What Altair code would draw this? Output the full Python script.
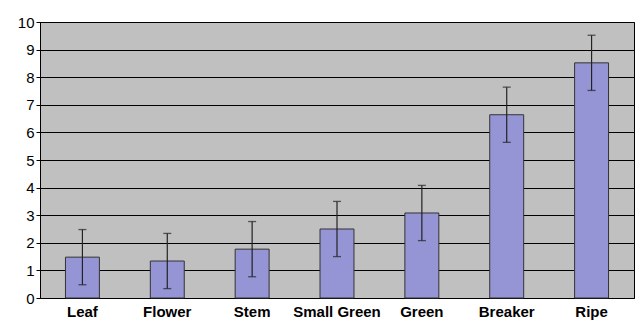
import altair as alt
import pandas as pd

categories = ["Leaf", "Flower", "Stem", "Small Green", "Green", "Breaker", "Ripe"]
values = [1.48, 1.34, 1.77, 2.5, 3.08, 6.64, 8.52]
errors = [1.0, 1.0, 1.0, 1.0, 1.0, 1.0, 1.0]
y_ticks = [0, 1, 2, 3, 4, 5, 6, 7, 8, 9, 10]

df = pd.DataFrame({"cat": categories, "val": values, "err": errors})
df["lo"] = df["val"] - df["err"]
df["hi"] = df["val"] + df["err"]

xaxis = alt.Axis(labelAngle=0, labelFont="Liberation Sans", labelFontSize=15,
                 labelFontWeight="bold", labelColor="black", ticks=False,
                 domain=False, labelPadding=6, grid=False)
yaxis = alt.Axis(values=y_ticks, labelFont="Liberation Sans",
                 labelFontSize=15, labelColor="black", tickColor="black",
                 tickSize=4, domainColor="black", gridColor="black",
                 gridOpacity=1, gridWidth=1, labelPadding=2, labelOverlap=False,
                 grid=True)
xsc = alt.Scale(paddingInner=0.6, paddingOuter=0.3)
ysc = alt.Scale(domain=[0, 10], nice=False)

def X():
    return alt.X("cat:N", sort=categories, title=None, scale=xsc, axis=xaxis)

def Y(field):
    return alt.Y(field, title=None, scale=ysc, axis=yaxis)

base = alt.Chart(df)
bars = base.mark_bar(color="#9595d5", stroke="#333333", strokeWidth=1).encode(
    x=X(), y=Y("val:Q"))
rules = base.mark_rule(color="#222222", strokeWidth=1.2).encode(
    x=X(), y=Y("lo:Q"), y2="hi:Q")
caps_lo = base.mark_tick(color="#222222", size=8, thickness=1.3).encode(
    x=X(), y=Y("lo:Q"))
caps_hi = base.mark_tick(color="#222222", size=8, thickness=1.3).encode(
    x=X(), y=Y("hi:Q"))

chart = (bars + rules + caps_lo + caps_hi).properties(
    width=594, height=276,
    autosize=alt.AutoSizeParams(type="none"),
    padding={"left": 40, "top": 22, "right": 1, "bottom": 29},
    background="white",
).configure_view(fill="#c0c0c0", stroke="black", strokeWidth=1)

chart.save("out.html", embed_options={"renderer": "svg", "actions": False})
